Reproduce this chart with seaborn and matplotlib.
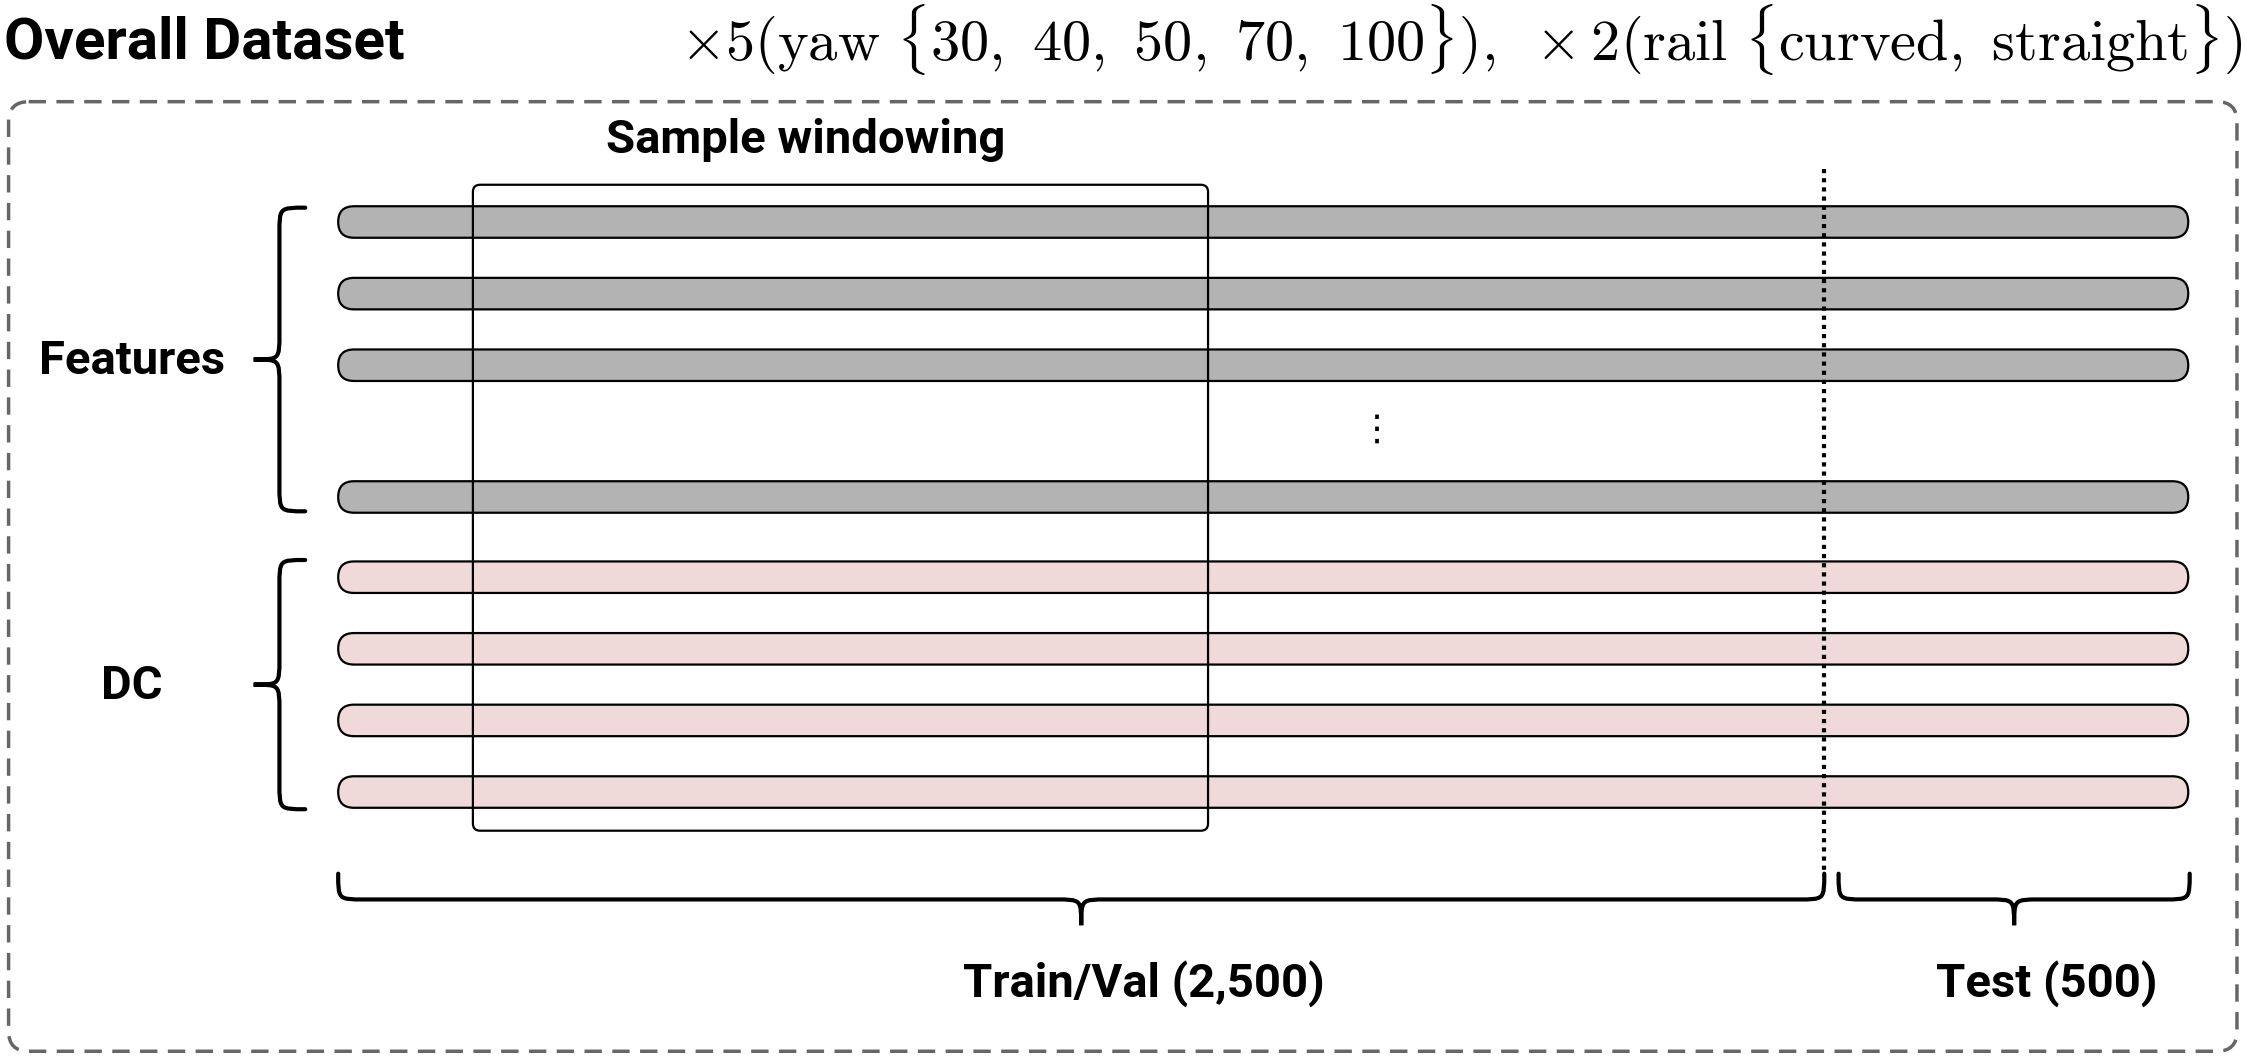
import matplotlib
matplotlib.use("Agg")
import matplotlib.pyplot as plt
import seaborn as sns
from matplotlib.patches import FancyBboxPatch, PathPatch
from matplotlib.path import Path

sns.set_theme(style="white")
plt.rcParams['font.family'] = ['Roboto', 'DejaVu Sans']
plt.rcParams['mathtext.fontset'] = 'cm'
plt.rcParams['text.color'] = 'black'

title = "Overall Dataset"
yaw_values = [30, 40, 50, 70, 100]
rail_types = ["curved", "straight"]
feature_rows = 4          # drawn rows (with ellipsis before the last)
dc_rows = 4
split_labels = ["Train/Val (2,500)", "Test (500)"]
group_labels = ["Features", "DC"]
window_label = "Sample windowing"

fig = plt.figure(figsize=(22.47, 10.57), dpi=100)
ax = fig.add_axes([0, 0, 1, 1])
ax.set_xlim(0, 1568)
ax.set_ylim(738, 0)
ax.axis("off")

def brace(ax, x0, x1, y0, y1, horizontal=True, lw=3.0):
    if horizontal:
        m = (x0 + x1) / 2; ym = (y0 + y1) / 2; r = (y1 - y0) / 2
        verts = [(x0, y0), (x0, ym), (x0, ym), (x0 + r, ym),
                 (m - r, ym), (m, ym), (m, ym), (m, y1),
                 (m, ym), (m, ym), (m + r, ym),
                 (x1 - r, ym), (x1, ym), (x1, ym), (x1, y0)]
    else:
        m = (y0 + y1) / 2; xm = (x0 + x1) / 2; r = (x1 - x0) / 2
        verts = [(x1, y0), (xm, y0), (xm, y0), (xm, y0 + r),
                 (xm, m - r), (xm, m), (xm, m), (x0, m),
                 (xm, m), (xm, m), (xm, m + r),
                 (xm, y1 - r), (xm, y1), (xm, y1), (x1, y1)]
    codes = [Path.MOVETO, Path.CURVE4, Path.CURVE4, Path.CURVE4,
             Path.LINETO, Path.CURVE4, Path.CURVE4, Path.CURVE4,
             Path.CURVE4, Path.CURVE4, Path.CURVE4,
             Path.LINETO, Path.CURVE4, Path.CURVE4, Path.CURVE4]
    ax.add_patch(PathPatch(Path(verts, codes), fill=False, lw=lw, color="black",
                           capstyle="round"))

# titles
ax.text(3, 30, title, fontsize=42, fontweight="bold", ha="left", va="center")
yaw_s = r",\ ".join(str(v) for v in yaw_values)
rail_s = r",\ ".join(r"\mathrm{%s}" % r for r in rail_types)
ax.text(1565, 28, r"$\times5(\mathrm{yaw}\ \{%s\}),\ \times2(\mathrm{rail}\ \{%s\})$" % (yaw_s, rail_s),
        fontsize=42, ha="right", va="center")

# dashed outer box
ax.add_patch(FancyBboxPatch((6, 71), 1555, 663, boxstyle="round,pad=0,rounding_size=14",
                            fill=False, ec="#666666", lw=2.5, ls=(0, (5, 3))))

# bars
x0, x1, bh = 236, 1527, 22
feat_y = [155, 205, 255, 347][:feature_rows]
dc_y = [403, 453, 503, 553][:dc_rows]
for ys, col in [(feat_y, "#b3b3b3"), (dc_y, "#efd9d9")]:
    for y in ys:
        ax.add_patch(FancyBboxPatch((x0, y - bh / 2), x1 - x0, bh,
                                    boxstyle="round,pad=0,rounding_size=11",
                                    fc=col, ec="black", lw=1.6))
ax.text(961, 300, "⋮", fontsize=26, ha="center", va="center")

# sample window
ax.add_patch(FancyBboxPatch((330, 129), 513, 451, boxstyle="round,pad=0,rounding_size=5",
                            fill=False, ec="black", lw=1.6))
ax.text(562, 98, window_label, fontsize=34, fontweight="bold", ha="center", va="center")

# split line
ax.plot([1273, 1273], [118, 610], color="black", lw=3, ls=(0, (1, 1.2)))

# left braces
brace(ax, 177, 213, 145, 357, horizontal=False)
brace(ax, 177, 213, 391, 565, horizontal=False)
ax.text(92, 252, group_labels[0], fontsize=34, fontweight="bold", ha="center", va="center")
ax.text(92, 479, group_labels[1], fontsize=34, fontweight="bold", ha="center", va="center")

# bottom braces
brace(ax, 236, 1273, 610, 646)
brace(ax, 1283, 1528, 610, 646)
ax.text(798, 687, split_labels[0], fontsize=34, fontweight="bold", ha="center", va="center")
ax.text(1428, 687, split_labels[1], fontsize=34, fontweight="bold", ha="center", va="center")

fig.savefig("out.png", dpi=100)
